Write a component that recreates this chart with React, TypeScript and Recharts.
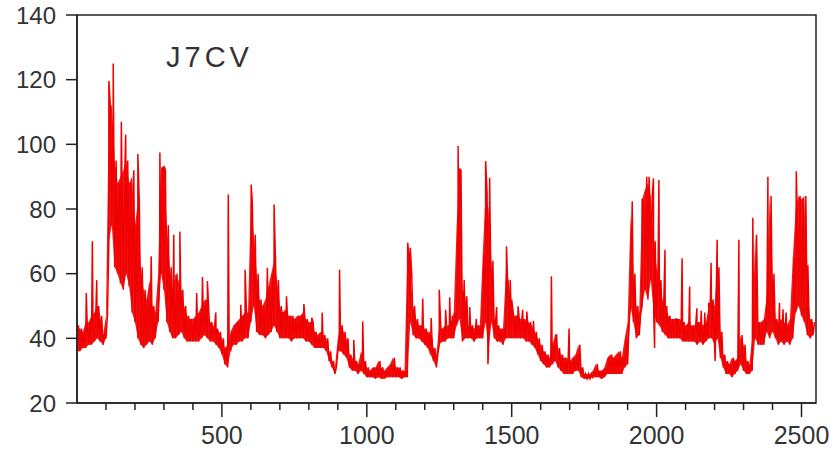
import { ComposedChart, Line, Area, XAxis, YAxis, ReferenceArea, Customized } from 'recharts';

// sampled every 10 points: lower and upper edge of the noisy band
const STEP = 10;

const lowBand = [
  36, 36, 37, 37, 38, 38, 39, 40, 39, 38,
  40, 70, 75, 62, 60, 57, 55, 60, 56, 48,
  45, 40, 38, 37, 38, 39, 38, 40, 45, 60,
  55, 45, 42, 40, 40, 41, 42, 40, 39, 39,
  39, 39, 39, 40, 41, 40, 39, 39, 38, 37,
  35, 32, 31, 36, 38, 38, 39, 39, 40, 40,
  45, 50, 42, 41, 41, 40, 41, 42, 44, 42,
  40, 40, 40, 40, 39, 40, 40, 40, 40, 39,
  39, 38, 37, 37, 37, 37, 36, 33, 31, 29,
  36, 36, 35, 34, 31, 30, 30, 29, 30, 29,
  28, 28, 28, 27.5, 28, 27.5, 27.5, 28, 28, 28,
  28, 28, 27.5, 28, 28, 45, 41, 40, 40, 39,
  38, 37, 35, 33, 31, 38, 39, 39, 40, 40,
  40, 44, 46, 39, 40, 40, 40, 39, 40, 40,
  40, 45, 36, 45, 40, 39, 39, 38, 40, 40,
  40, 40, 40, 40, 40, 39, 39, 38, 37, 35,
  33, 32, 31, 31, 32, 33, 31, 30, 29, 29,
  29, 29, 30, 30, 28, 27.5, 27.5, 27.5, 28, 28,
  28, 27.5, 28, 29, 29, 29, 29, 29, 29, 31,
  32, 50, 45, 40, 41, 50, 55, 52, 58, 48,
  45, 44, 42, 41, 40, 40, 40, 40, 40, 39,
  39, 39, 39, 39, 38, 39, 38, 39, 40, 40,
  38, 40, 34, 31, 29, 29, 28, 29, 30, 32,
  30, 29, 29, 30, 40, 38, 38, 38, 42, 40,
  42, 40, 38, 39, 38, 39, 38, 40, 48, 50, 47, 45, 41, 40, 41,
];

const highBand = [
  44, 43, 42, 45, 45, 47, 48, 50, 47, 41,
  47, 112, 112, 95, 88, 90, 92, 95, 88, 90,
  75, 82, 62, 55, 52, 58, 50, 48, 60, 93,
  92, 75, 62, 55, 60, 58, 55, 50, 47, 46,
  46, 47, 48, 50, 52, 48, 45, 44, 43, 42,
  40, 37, 38, 42, 44, 45, 46, 47, 48, 48,
  82, 72, 60, 52, 50, 52, 56, 60, 64, 58,
  50, 48, 49, 47, 47, 46, 47, 47, 48, 46,
  45, 45, 42, 41, 42, 41, 40, 36, 33, 31,
  40, 44, 42, 40, 35, 34, 33, 32, 36, 33,
  31, 30, 31, 31, 33, 31, 30, 31, 32, 34,
  31, 31, 30, 30, 66, 60, 50, 46, 44, 44,
  43, 42, 40, 37, 35, 44, 43, 44, 44, 45,
  48, 75, 92, 55, 53, 44, 44, 43, 44, 44,
  66, 85, 80, 64, 46, 44, 43, 43, 60, 58,
  48, 47, 47, 46, 46, 45, 45, 44, 42, 40,
  38, 36, 35, 34, 38, 41, 37, 35, 34, 34,
  33, 34, 35, 38, 31, 29, 29, 29, 30, 32,
  30, 30, 31, 34, 35, 34, 35, 36, 34, 40,
  45, 78, 60, 50, 48, 83, 86, 88, 84, 70,
  62, 58, 52, 50, 47, 46, 46, 46, 46, 45,
  44, 45, 44, 44, 45, 45, 44, 45, 50, 52,
  50, 62, 42, 35, 33, 32, 34, 33, 34, 41,
  38, 33, 32, 40, 72, 45, 45, 46, 53, 84,
  60, 46, 45, 46, 45, 44, 46, 65, 80, 84, 83, 84, 50, 46, 45,
];

// [index, value] of single sharp peaks
const spikes: [number, number][] = [
  [32, 54], [53, 70], [68, 58], [110, 119.6], [125, 125], [153, 107], [168, 103],
  [196, 92], [210, 97], [256, 65.4], [286, 97.5], [300, 93.3], [334, 72], [355, 73],
  [413, 54], [433, 59], [450, 57.7], [479, 48], [522, 84.5], [565, 50.4], [580, 61.2],
  [601, 87.6], [657, 61.8], [680, 81.4], [710, 48], [723, 53], [783, 50.6], [810, 46.4],
  [846, 48], [906, 61.2], [955, 39.5], [986, 45.2], [1141, 69.6], [1150, 68], [1193, 52.3],
  [1222, 46.3], [1250, 55], [1272, 48.8], [1286, 52.7], [1295, 47], [1315, 99.5],
  [1321, 92.3], [1336, 58], [1355, 49.7], [1378, 46], [1410, 94.8], [1424, 89.7],
  [1448, 49.7], [1482, 68.5], [1500, 52], [1522, 49.9], [1538, 48.8], [1552, 48.3],
  [1575, 45.4], [1637, 59.2], [1652, 41], [1698, 43], [1916, 82.4], [1950, 82.9],
  [1966, 90], [1974, 90], [1989, 89.5], [2008, 89], [2029, 67.4], [2046, 46.8],
  [2069, 46], [2088, 64.8], [2114, 56], [2139, 49.3], [2154, 48.5], [2166, 48],
  [2180, 51], [2188, 63.4], [2209, 70.5], [2284, 70.5], [2332, 77.3], [2384, 90],
  [2424, 51], [2436, 49], [2447, 48], [2482, 91.7], [2522, 62.6],
];

// [index, value] of single sharp drops
const dips: [number, number][] = [[1418, 32], [1993, 37], [2202, 33]];

const yTicks = [20, 40, 60, 80, 100, 120, 140];
const xTicks = [100, 200, 300, 400, 500, 600, 700, 800, 900, 1000, 1100, 1200, 1300,
  1400, 1500, 1600, 1700, 1800, 1900, 2000, 2100, 2200, 2300, 2400, 2500];
const xLabels = [500, 1000, 1500, 2000, 2500];
const title = 'J7CV';

const FONT = '"Liberation Sans", Arial, sans-serif';
const RED = '#f00000';

type Pt = { x: number; v: number; band?: [number, number] };

// zigzag between the two band edges, plus the peaks and drops
const points: Pt[] = [];
lowBand.forEach((v, i) => points.push({ x: i * STEP, v, band: [v, highBand[i]] }));
highBand.forEach((v, i) => points.push({ x: i * STEP + STEP / 2, v }));
spikes.forEach(([x, v]) => points.push({ x, v }));
dips.forEach(([x, v]) => points.push({ x, v }));
points.sort((a, b) => a.x - b.x);

const XTick = (props: any) => {
  const { x, y, payload } = props;
  const major = xLabels.includes(payload.value);
  return (
    <g>
      <line x1={x} x2={x} y1={y} y2={y + (major ? 14 : 7)} stroke="#222" strokeWidth={1.5} />
      {major && (
        <text x={x} y={y + 41} textAnchor="middle" fontSize={25} fill="#333" fontFamily={FONT}>
          {payload.value}
        </text>
      )}
    </g>
  );
};

const Title = () => (
  <text x={166} y={67} fontSize={29} letterSpacing={4} fill="#333" fontFamily={FONT}>
    {title}
  </text>
);

export default function App() {
  return (
    <div style={{ position: 'absolute', left: 0, top: 0, width: 836, height: 455, background: '#fff' }}>
      <ComposedChart width={836} height={455} data={points} margin={{ top: 15, right: 20, left: 0, bottom: 0 }}>
        <XAxis
          type="number"
          dataKey="x"
          domain={[0, 2550]}
          ticks={xTicks}
          interval={0}
          height={52}
          tickSize={0}
          tickMargin={0}
          tickLine={false}
          tick={<XTick />}
          stroke="#222"
          strokeWidth={1.5}
          allowDataOverflow
        />
        <YAxis
          type="number"
          domain={[20, 140]}
          ticks={yTicks}
          width={77}
          tickSize={11}
          tickMargin={10}
          stroke="#222"
          strokeWidth={1.5}
          tick={{ fontSize: 24, fill: '#333', fontFamily: FONT }}
          allowDataOverflow
        />
        <ReferenceArea x1={0} x2={2550} y1={20} y2={140} fill="none" fillOpacity={0} stroke="#222" strokeWidth={1.5} />
        <Area
          type="linear"
          dataKey="band"
          stroke="none"
          fill={RED}
          fillOpacity={0.9}
          connectNulls
          isAnimationActive={false}
        />
        <Line
          type="linear"
          dataKey="v"
          stroke={RED}
          strokeWidth={1.5}
          dot={false}
          isAnimationActive={false}
        />
        <Customized component={Title} />
      </ComposedChart>
    </div>
  );
}
